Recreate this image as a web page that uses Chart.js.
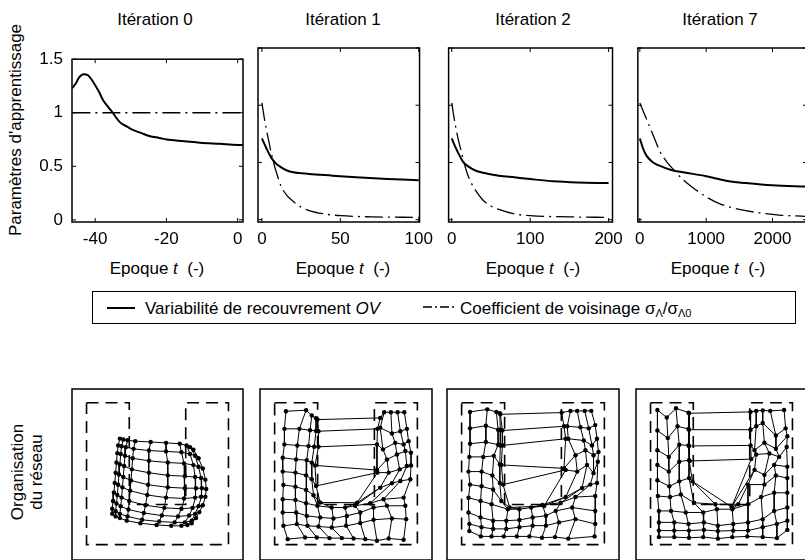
<!DOCTYPE html>
<html lang="fr">
<head>
<meta charset="UTF-8">
<title>Itérations - paramètres d'apprentissage</title>
<script src="https://cdn.jsdelivr.net/npm/chart.js"></script>
<style>
    html, body {
        margin: 0;
        padding: 0;
        width: 805px;
        height: 560px;
        overflow: hidden;
        background: #fff;
        font-family: Arial, "Liberation Sans", sans-serif;
        font-size: 17px;
        color: #000;
    }
    canvas { position: absolute; }
    .lbl {
        position: absolute;
        white-space: nowrap;
        transform: translate(-50%, -50%);
        line-height: 1;
    }
    .rot { transform: translate(-50%, -50%) rotate(-90deg); }
    #legend {
        position: absolute;
        left: 92px; top: 291px;
        width: 702px; height: 31px;
        border: 1.5px solid #000;
    }
    #legend span { position: absolute; top: 7px; white-space: nowrap; }
    .sample { position: absolute; top: 15px; height: 0; }
    sub { font-size: 11px; vertical-align: -3px; }
</style>
</head>
<body>

<!-- titles -->
<div class="lbl" style="left:155px; top:19px;">Itération 0</div>
<div class="lbl" style="left:343px; top:19px;">Itération 1</div>
<div class="lbl" style="left:533px; top:19px;">Itération 2</div>
<div class="lbl" style="left:720px; top:19px;">Itération 7</div>

<div class="lbl rot" style="left:15px; top:130px;">Paramètres d'apprentissage</div>

<div class="lbl" style="left:157px; top:268px;">Epoque <i>t</i>&nbsp; (-)</div>
<div class="lbl" style="left:343px; top:268px;">Epoque <i>t</i>&nbsp; (-)</div>
<div class="lbl" style="left:533px; top:268px;">Epoque <i>t</i>&nbsp; (-)</div>
<div class="lbl" style="left:718px; top:268px;">Epoque <i>t</i>&nbsp; (-)</div>

<div id="legend">
    <div class="sample" style="left:14px; width:28px; border-top:2px solid #000;"></div>
    <span style="left:52px;">Variabilité de recouvrement <i>OV</i></span>
    <canvas id="dashSample" width="32" height="6" style="left:330px; top:12px;"></canvas>
    <span style="left:367px;">Coefficient de voisinage σ<sub>Λ</sub>/σ<sub>Λ0</sub></span>
</div>

<div class="lbl rot" style="left:17px; top:472px;">Organisation</div>
<div class="lbl rot" style="left:36px; top:472px;">du réseau</div>

<canvas id="c0" width="250" height="220" style="left:0px; top:40px;"></canvas>
<canvas id="c1" width="190" height="220" style="left:250px; top:40px;"></canvas>
<canvas id="c2" width="190" height="220" style="left:440px; top:40px;"></canvas>
<canvas id="c3" width="190" height="220" style="left:628px; top:40px;"></canvas>

<canvas id="n0" width="250" height="190" style="left:0px; top:381px;"></canvas>
<canvas id="n1" width="190" height="190" style="left:250px; top:381px;"></canvas>
<canvas id="n2" width="190" height="190" style="left:440px; top:381px;"></canvas>
<canvas id="n3" width="190" height="190" style="left:628px; top:381px;"></canvas>

<script>
// ---- learning parameter curves ----
const yTicks = [0, 0.5, 1, 1.5];
const yLabels = ['0', '0.5', '1', '1.5'];

// iteration 0
const xTicks0 = [-40, -20, 0];
const epoch0 = [-46.4, -45.5, -44.5, -43.3, -42, -40.6, -39, -37.8, -36.5, -35.3, -33, -31, -29.4, -27, -24.6, -22, -19.9, -15, -10.6, -5, 0, 1.4];
const ov0 = [1.23, 1.27, 1.33, 1.36, 1.35, 1.29, 1.20, 1.12, 1.06, 1.01, 0.91, 0.87, 0.84, 0.81, 0.78, 0.765, 0.75, 0.735, 0.72, 0.71, 0.70, 0.70];
const coefEpoch0 = [-46.4, 1.4];
const coef0 = [1, 1];

// iteration 1
const xTicks1 = [0, 50, 100];
const epoch1 = [0, 3, 6, 9, 12, 16, 20, 30, 45, 60, 80, 100];
const ov1 = [0.71, 0.62, 0.54, 0.49, 0.46, 0.43, 0.415, 0.40, 0.385, 0.37, 0.355, 0.345];
const coefEpoch1 = [0, 2, 4, 6, 8, 10, 12, 16, 20, 25, 30, 40, 50, 70, 100];
const coef1 = [1.02, 0.85, 0.71, 0.58, 0.47, 0.38, 0.30, 0.21, 0.16, 0.11, 0.08, 0.05, 0.035, 0.025, 0.02];

// iteration 2
const xTicks2 = [0, 100, 200];
const epoch2 = [0, 5, 10, 15, 20, 30, 40, 60, 80, 100, 130, 160, 200];
const ov2 = [0.71, 0.63, 0.56, 0.50, 0.47, 0.43, 0.41, 0.385, 0.37, 0.355, 0.335, 0.325, 0.32];
const coefEpoch2 = [0, 4, 8, 12, 16, 20, 25, 30, 40, 50, 60, 80, 100, 150, 200];
const coef2 = [1.02, 0.85, 0.71, 0.60, 0.49, 0.40, 0.32, 0.26, 0.17, 0.12, 0.09, 0.05, 0.035, 0.025, 0.02];

// iteration 7
const xTicks3 = [0, 1000, 2000];
const epoch3 = [0, 50, 100, 200, 350, 500, 700, 1000, 1300, 1600, 2000, 2500];
const ov3 = [0.71, 0.62, 0.56, 0.50, 0.46, 0.43, 0.41, 0.38, 0.34, 0.32, 0.30, 0.29];
const coefEpoch3 = [0, 100, 200, 300, 400, 520, 650, 800, 1000, 1200, 1500, 1800, 2100, 2500];
const coef3 = [1.02, 0.88, 0.74, 0.60, 0.51, 0.43, 0.35, 0.28, 0.20, 0.14, 0.09, 0.06, 0.04, 0.03];

// ---- network organisation (node positions, % of frame, y from top) ----
const outlineU = [[8.5, 8], [33.5, 8], [33.5, 67.5], [66.5, 67.5], [66.5, 8], [91.5, 8], [91.5, 91], [8.5, 91], [8.5, 8]];

const net0 = [
    [[28, 29], [30, 29.5], [32.5, 30], [37, 30.5], [46, 31], [55, 31.5], [63, 32], [67, 33], [69, 34], [71, 35.5]],
    [[27, 33], [29, 33.5], [31.5, 34], [36, 35], [45, 36], [55, 36.5], [64, 37], [69, 38], [72, 39], [74, 40.5]],
    [[26.5, 37.5], [28.5, 38], [31, 39], [35.5, 40.5], [45, 42], [56, 43], [65.5, 43.5], [71, 44.5], [74, 45.5], [76.5, 46.5]],
    [[26, 43], [28, 44], [30.5, 45], [35, 47], [45, 49], [56, 50.5], [66, 51], [72, 51.5], [75.5, 52], [78, 53]],
    [[25.5, 49], [27.5, 50], [30, 51.5], [34.5, 53.5], [44.5, 56], [56, 57.5], [66, 58], [72.5, 58], [76, 58], [78.5, 58.5]],
    [[25, 55], [27, 56], [29.5, 57.5], [34, 59.5], [44, 62], [55, 63.5], [65.5, 64], [72, 63.5], [75.5, 63], [78, 63]],
    [[24.5, 60.5], [26.5, 62], [29, 63.5], [33.5, 65.5], [43, 68], [54, 69.5], [64, 70], [70.5, 69.5], [74, 68.5], [76.5, 68]],
    [[24, 65.5], [26, 67], [28.5, 68.5], [33, 70.5], [42, 72.5], [52.5, 74], [62, 74.5], [68.5, 74], [72, 73], [74.5, 72]],
    [[23.5, 70], [25.5, 71.5], [28, 73], [32.5, 74.5], [41, 76.5], [51, 77.5], [60, 78], [66, 78], [70, 77], [72.5, 75.5]],
    [[23.5, 73], [25.5, 74.5], [28, 75.5], [32, 77], [40, 78.5], [49.5, 79.5], [58, 80], [64, 80], [67.5, 79.5], [70, 78.5]]
];

const net1 = [
    [[15.1, 13.0], [26.8, 12.4], [30.1, 15.5], [32.6, 17.1], [33.4, 17.9], [69.9, 16.9], [72.2, 13.6], [76.1, 13.6], [80.0, 13.6], [83.9, 13.6]],
    [[14.2, 23.3], [22.9, 23.3], [29.1, 24.1], [32.6, 24.5], [34.0, 24.7], [68.3, 23.3], [69.9, 22.7], [76.7, 26.0], [81.6, 24.7], [85.4, 23.3]],
    [[14.2, 32.4], [21.7, 33.0], [28.2, 33.4], [31.5, 33.8], [34.0, 33.8], [68.0, 32.4], [71.5, 35.3], [78.6, 31.5], [83.5, 32.4], [86.4, 30.5]],
    [[13.2, 40.2], [21.0, 41.2], [27.2, 41.6], [30.1, 43.1], [32.0, 44.7], [68.0, 47.4], [73.8, 41.2], [79.6, 38.3], [84.5, 36.3], [87.8, 37.3]],
    [[13.2, 48.3], [20.6, 48.9], [26.8, 50.5], [30.1, 52.8], [32.6, 56.7], [68.3, 48.9], [74.8, 48.9], [81.2, 47.0], [85.4, 45.0], [87.8, 44.7]],
    [[13.6, 56.1], [20.6, 57.1], [26.8, 59.0], [31.1, 62.1], [35.0, 66.4], [56.5, 66.5], [69.9, 57.7], [76.7, 55.1], [81.6, 53.8], [87.4, 52.8]],
    [[13.2, 64.5], [20.6, 64.9], [26.8, 66.8], [33.4, 68.3], [41.7, 69.3], [49.5, 69.3], [55.3, 68.3], [64.1, 66.8], [71.8, 64.5], [83.5, 63.5]],
    [[13.2, 72.2], [21.0, 72.2], [27.2, 74.2], [35.0, 75.1], [42.7, 75.7], [50.5, 74.2], [58.3, 72.2], [66.0, 69.3], [73.8, 68.3], [84.5, 68.3]],
    [[13.6, 80.0], [21.4, 79.0], [27.6, 80.0], [34.0, 80.4], [41.7, 81.0], [50.1, 80.0], [58.3, 78.4], [66.0, 76.5], [76.7, 75.7], [85.0, 76.1]],
    [[16.1, 87.8], [26.2, 86.8], [33.0, 86.8], [40.4, 87.2], [47.6, 87.2], [54.4, 87.4], [61.2, 87.8], [68.0, 88.7], [74.8, 87.4], [83.5, 88.2]]
];

const net2 = [
    [[13.4, 13.4], [23.4, 11.9], [28.7, 13.4], [30.7, 14.2], [31.0, 14.8], [66.7, 13.8], [71.8, 12.8], [75.7, 12.8], [80.1, 12.8], [83.9, 12.8]],
    [[13.4, 23.0], [22.6, 21.5], [29.7, 23.8], [31.0, 23.8], [32.2, 24.3], [68.0, 21.8], [69.9, 21.8], [77.6, 22.4], [82.4, 23.0], [86.2, 21.1]],
    [[13.4, 32.0], [22.6, 31.0], [29.7, 32.6], [31.0, 33.0], [32.2, 33.0], [69.0, 29.1], [70.5, 29.1], [79.5, 30.1], [84.3, 33.0], [87.2, 29.1]],
    [[13.0, 39.7], [21.1, 39.7], [27.2, 39.1], [30.7, 44.1], [31.6, 44.4], [68.0, 46.4], [74.7, 38.7], [80.5, 35.8], [85.2, 38.7], [88.1, 36.8]],
    [[12.5, 48.3], [20.1, 48.3], [26.4, 50.6], [30.7, 55.0], [32.6, 55.9], [69.0, 47.3], [75.7, 48.3], [81.4, 44.4], [85.2, 49.2], [87.7, 42.5]],
    [[13.4, 55.9], [20.1, 56.9], [26.8, 58.8], [31.6, 65.5], [36.4, 69.3], [56.5, 68.4], [69.0, 63.2], [78.5, 57.9], [83.3, 55.9], [87.2, 55.0]],
    [[12.5, 63.6], [19.5, 65.5], [25.9, 67.4], [35.4, 70.3], [42.1, 70.3], [48.9, 69.3], [55.5, 67.8], [66.1, 66.5], [74.7, 63.2], [86.2, 62.6]],
    [[12.5, 72.2], [19.5, 75.1], [26.8, 77.0], [34.5, 77.0], [42.1, 76.6], [49.8, 75.1], [57.5, 74.1], [63.2, 71.3], [72.8, 69.3], [86.2, 71.3]],
    [[13.0, 78.9], [20.1, 80.8], [26.8, 81.8], [34.5, 81.8], [42.1, 80.8], [49.8, 79.9], [57.5, 79.9], [65.1, 78.0], [74.7, 76.1], [86.2, 78.9]],
    [[13.0, 83.1], [19.7, 86.2], [25.9, 86.2], [33.0, 86.2], [40.6, 86.2], [47.9, 86.2], [55.2, 87.0], [62.8, 86.6], [70.5, 87.5], [85.8, 86.2]]
];

const net3 = [
    [[12.5, 12.3], [18.0, 16.7], [23.4, 11.3], [30.7, 13.8], [31.0, 14.2], [67.0, 13.4], [70.3, 12.8], [74.1, 12.5], [78.5, 12.8], [86.6, 12.3]],
    [[12.5, 24.3], [18.6, 28.7], [24.3, 21.8], [30.7, 23.4], [31.0, 23.8], [67.0, 23.8], [70.3, 21.8], [74.1, 19.9], [81.8, 27.2], [87.5, 23.0]],
    [[12.5, 35.8], [19.2, 39.7], [25.3, 32.6], [30.7, 33.0], [31.0, 33.3], [67.0, 33.0], [69.3, 35.8], [75.1, 31.4], [81.8, 34.9], [88.5, 27.6]],
    [[12.5, 44.4], [19.2, 48.3], [25.3, 42.5], [31.0, 41.6], [31.4, 42.1], [67.4, 41.0], [70.3, 38.3], [78.0, 37.7], [83.7, 39.7], [88.1, 33.9]],
    [[12.5, 53.4], [19.5, 56.9], [25.3, 54.0], [31.0, 52.1], [33.0, 54.0], [55.9, 69.0], [69.3, 47.3], [75.1, 50.2], [80.8, 44.4], [88.5, 45.4]],
    [[12.8, 62.6], [19.9, 63.2], [26.2, 61.7], [33.9, 66.5], [46.4, 67.4], [59.8, 67.4], [65.5, 55.9], [75.1, 55.9], [81.8, 50.6], [88.5, 52.1]],
    [[13.4, 71.3], [20.5, 71.3], [29.1, 72.2], [39.3, 72.2], [47.3, 70.3], [56.3, 70.3], [65.5, 67.4], [73.2, 63.2], [80.8, 60.7], [88.5, 60.7]],
    [[13.4, 78.0], [22.4, 78.0], [30.7, 78.9], [39.7, 78.0], [47.9, 79.9], [56.9, 78.9], [65.5, 78.0], [74.1, 76.1], [80.8, 71.3], [88.5, 69.3]],
    [[13.4, 82.8], [22.4, 82.8], [31.0, 82.8], [39.7, 82.4], [47.9, 83.1], [56.9, 82.8], [65.5, 82.8], [74.1, 80.8], [82.4, 78.9], [88.5, 77.0]],
    [[13.4, 86.6], [22.4, 86.6], [31.0, 87.0], [39.3, 86.6], [47.9, 87.5], [56.3, 86.6], [65.1, 86.2], [74.1, 86.6], [82.4, 87.2], [88.5, 82.4]]
];

const FONT = { family: 'Arial, "Liberation Sans", sans-serif', size: 17 };
const DASHDOT = [18, 5, 2, 5];

// box around the plot area plus small inward ticks (matlab style)
const frame = {
    id: 'frame',
    afterDraw(chart, args, opts) {
        const a = chart.chartArea, ctx = chart.ctx;
        ctx.save();
        ctx.strokeStyle = '#000';
        ctx.lineWidth = 1.5;
        ctx.strokeRect(a.left, a.top, a.right - a.left, a.bottom - a.top);
        ctx.lineWidth = 1;
        ctx.beginPath();
        (opts.xt || []).forEach(v => {
            const px = chart.scales.x.getPixelForValue(v);
            ctx.moveTo(px, a.bottom); ctx.lineTo(px, a.bottom - 4);
            ctx.moveTo(px, a.top); ctx.lineTo(px, a.top + 4);
        });
        (opts.yt || []).forEach(v => {
            const py = chart.scales.y.getPixelForValue(v);
            ctx.moveTo(a.left, py); ctx.lineTo(a.left + 4, py);
            ctx.moveTo(a.right, py); ctx.lineTo(a.right - 4, py);
        });
        ctx.stroke();
        ctx.restore();
    }
};

const pts = (xs, ys) => xs.map((x, i) => ({ x: x, y: ys[i] }));

function curveChart(id, epochs, ov, coefEpochs, coef, xMin, xMax, xTicks, pad, withY) {
    new Chart(document.getElementById(id), {
        type: 'line',
        data: {
            datasets: [{
                data: pts(epochs, ov),
                borderColor: '#000',
                borderWidth: 2,
                pointRadius: 0,
                cubicInterpolationMode: 'monotone'
            }, {
                data: pts(coefEpochs, coef),
                borderColor: '#000',
                borderWidth: 1.3,
                borderDash: DASHDOT,
                pointRadius: 0,
                cubicInterpolationMode: 'monotone'
            }]
        },
        options: {
            responsive: false,
            animation: false,
            devicePixelRatio: 1,
            layout: { padding: pad },
            plugins: {
                legend: { display: false },
                tooltip: { enabled: false },
                frame: { xt: xTicks, yt: yTicks }
            },
            scales: {
                x: {
                    type: 'linear',
                    min: xMin, max: xMax,
                    afterFit: s => { s.height = 38; },
                    afterBuildTicks: s => { s.ticks = xTicks.map(v => ({ value: v })); },
                    grid: { display: false, drawTicks: false },
                    border: { display: false },
                    ticks: { color: '#000', font: FONT, padding: 7, maxRotation: 0, callback: v => String(v) }
                },
                y: {
                    display: withY,
                    min: -0.02, max: 1.5,
                    afterFit: s => { s.width = withY ? 72 : 0; },
                    afterBuildTicks: s => { s.ticks = yTicks.map(v => ({ value: v })); },
                    grid: { display: false, drawTicks: false },
                    border: { display: false },
                    ticks: { color: '#000', font: FONT, padding: 9, callback: (v, i) => yLabels[i] }
                }
            }
        },
        plugins: [frame]
    });
}

function netChart(id, net, pad) {
    const rows = net.map(r => ({
        data: r.map(p => ({ x: p[0], y: p[1] })),
        showLine: true, borderColor: '#000', borderWidth: 1,
        pointRadius: 2.2, pointBackgroundColor: '#000', pointBorderWidth: 0
    }));
    const cols = net[0].map((_, c) => ({
        data: net.map(r => ({ x: r[c][0], y: r[c][1] })),
        showLine: true, borderColor: '#000', borderWidth: 1, pointRadius: 0
    }));
    const outline = {
        data: outlineU.map(p => ({ x: p[0], y: p[1] })),
        showLine: true, borderColor: '#000', borderWidth: 1.6,
        borderDash: [12, 7], pointRadius: 0
    };
    new Chart(document.getElementById(id), {
        type: 'scatter',
        data: { datasets: [outline].concat(cols, rows) },
        options: {
            responsive: false,
            animation: false,
            devicePixelRatio: 1,
            layout: { padding: pad },
            plugins: { legend: { display: false }, tooltip: { enabled: false }, frame: {} },
            scales: {
                x: { display: false, min: 0, max: 100 },
                y: { display: false, min: 0, max: 100, reverse: true }
            }
        },
        plugins: [frame]
    });
}

curveChart('c0', epoch0, ov0, coefEpoch0, coef0, -46.5, 1.5, xTicks0, { top: 8, right: 7 }, true);
curveChart('c1', epoch1, ov1, coefEpoch1, coef1, -2.5, 100.5, xTicks1, { top: 8, left: 8, right: 11 }, false);
curveChart('c2', epoch2, ov2, coefEpoch2, coef2, -4, 205, xTicks2, { top: 8, left: 7, right: 11 }, false);
curveChart('c3', epoch3, ov3, coefEpoch3, coef3, -30, 2520, xTicks3, { top: 8, left: 8, right: 11 }, false);

netChart('n0', net0, { top: 8, left: 72, right: 7, bottom: 11 });
netChart('n1', net1, { top: 8, left: 10, right: 8, bottom: 11 });
netChart('n2', net2, { top: 8, left: 7, right: 11, bottom: 11 });
netChart('n3', net3, { top: 8, left: 8, right: 11, bottom: 11 });

// dash-dot sample for the legend
const sc = document.getElementById('dashSample').getContext('2d');
sc.setLineDash([9, 3, 2, 3]);
sc.lineWidth = 1.3;
sc.beginPath();
sc.moveTo(0, 3);
sc.lineTo(32, 3);
sc.stroke();
</script>
</body>
</html>
